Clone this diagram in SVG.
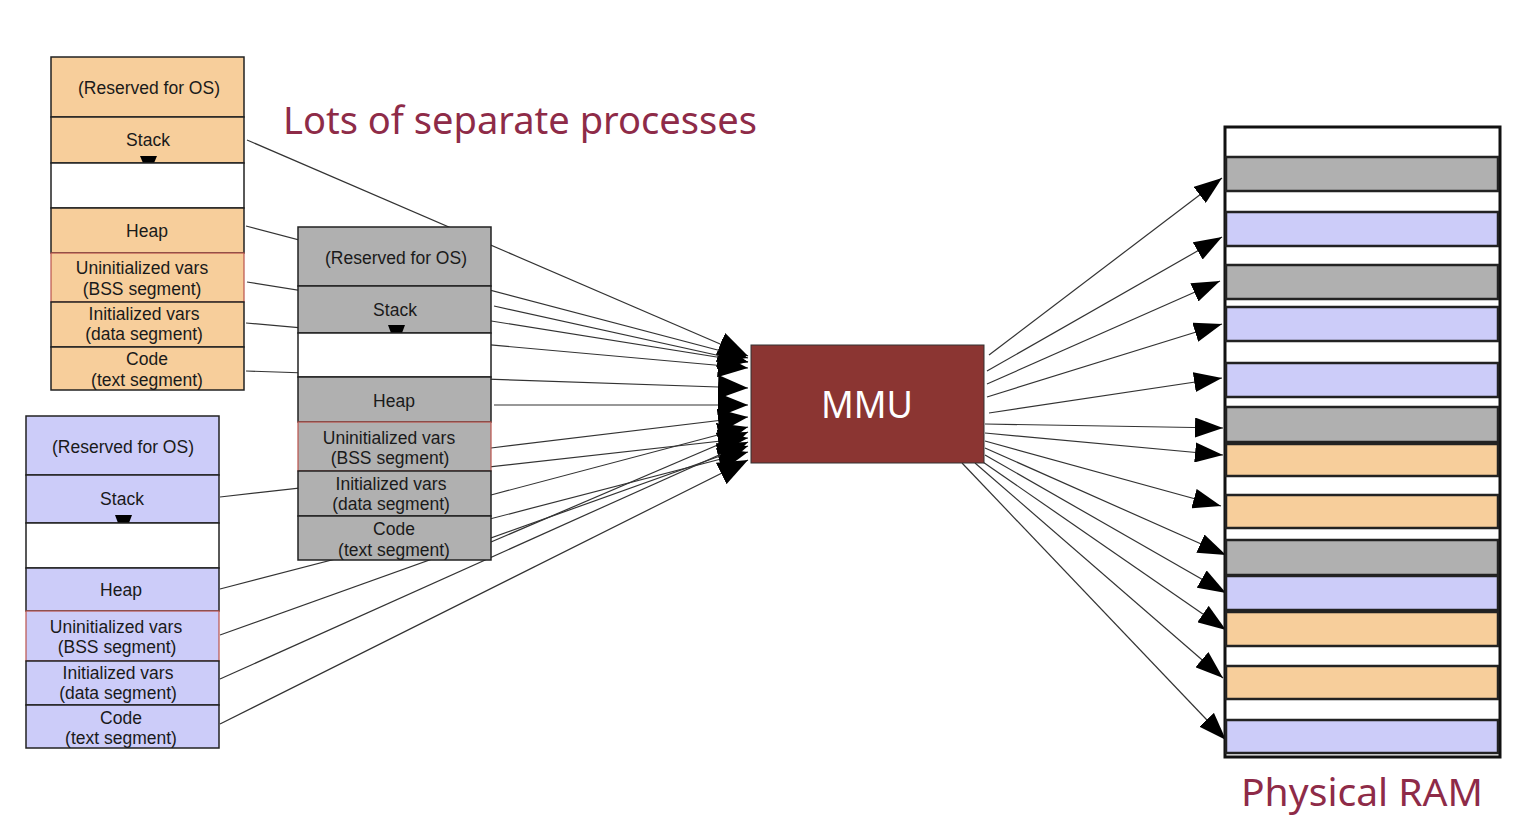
<svg xmlns="http://www.w3.org/2000/svg" width="1518" height="840" viewBox="0 0 1518 840">
<defs>
<marker id="ah" markerUnits="userSpaceOnUse" markerWidth="28" markerHeight="20" viewBox="0 0 14 10" refX="14" refY="5" orient="auto">
<path d="M0,0 L14,5 L0,10 z" fill="#000"/>
</marker>
<marker id="ahb" markerUnits="userSpaceOnUse" markerWidth="30" markerHeight="24" viewBox="0 0 12.5 10" refX="12.5" refY="5" orient="auto">
<path d="M0,0 L12.5,5 L0,10 z" fill="#000"/>
</marker>
<style>
.seg{stroke:#222;stroke-width:1.5}
.bss{stroke:#B9534C;stroke-width:1.2}
.or{fill:#F7CE9B}.gr{fill:#B0B0B0}.bl{fill:#CCCCF9}.wh{fill:#FFFFFF}
.t{font-family:"Liberation Sans",Arial,sans-serif;font-size:17.5px;fill:#1a1a1a;text-anchor:middle}
.c{stroke:#333;stroke-width:1.2;fill:none;marker-end:url(#ah)}
.m{stroke:#333;stroke-width:1.2;fill:none;marker-end:url(#ahb)}
.band{stroke:#222;stroke-width:2.5}
.title{font-family:"Noto Sans","DejaVu Sans",sans-serif;font-size:38px;fill:#8E2B48}
.tri{fill:#000}
</style>
</defs>
<rect width="1518" height="840" fill="#fff"/>

<g id="connectors">
<line class="m" x1="247" y1="140" x2="748" y2="356"/>
<line class="m" x1="246" y1="226" x2="748" y2="358"/>
<line class="m" x1="247" y1="282" x2="748" y2="362"/>
<line class="m" x1="246" y1="323" x2="748" y2="368"/>
<line class="m" x1="246" y1="371" x2="748" y2="388"/>
<line class="m" x1="494" y1="306" x2="748" y2="362"/>
<line class="m" x1="494" y1="405" x2="748" y2="405"/>
<line class="m" x1="491" y1="448" x2="748" y2="417"/>
<line class="m" x1="491" y1="495" x2="748" y2="427"/>
<line class="m" x1="491" y1="542" x2="748" y2="432"/>
<line class="m" x1="220" y1="497" x2="748" y2="438"/>
<line class="m" x1="220" y1="589" x2="748" y2="452"/>
<line class="m" x1="220" y1="635" x2="748" y2="446"/>
<line class="m" x1="220" y1="679" x2="748" y2="442"/>
<line class="m" x1="220" y1="724" x2="748" y2="460"/>

<line class="c" x1="989" y1="355" x2="1222" y2="178"/>
<line class="c" x1="987" y1="371" x2="1222" y2="237"/>
<line class="c" x1="987" y1="384" x2="1220" y2="281"/>
<line class="c" x1="987" y1="397" x2="1222" y2="324"/>
<line class="c" x1="989" y1="413" x2="1222" y2="378"/>
<line class="c" x1="985" y1="424" x2="1223" y2="428"/>
<line class="c" x1="985" y1="433" x2="1223" y2="455"/>
<line class="c" x1="985" y1="441" x2="1221" y2="506"/>
<line class="c" x1="985" y1="448" x2="1226" y2="555"/>
<line class="c" x1="985" y1="455" x2="1226" y2="593"/>
<line class="c" x1="980" y1="460" x2="1226" y2="630"/>
<line class="c" x1="975" y1="463" x2="1223" y2="678"/>
<line class="c" x1="962" y1="463" x2="1226" y2="740"/>
</g>

<g id="process-orange">
<rect class="seg or" x="51" y="57" width="193" height="60"/>
<text class="t" x="149" y="94">(Reserved for OS)</text>
<rect class="seg or" x="51" y="117" width="193" height="46"/>
<text class="t" x="148" y="146">Stack</text>
<path class="tri" d="M140,156 L157,156 L154,163 L143,163 z"/>
<rect class="seg wh" x="51" y="163" width="193" height="45"/>
<rect class="seg or" x="51" y="208" width="193" height="45"/>
<text class="t" x="147" y="237">Heap</text>
<rect class="bss or" x="51" y="253" width="193" height="49"/>
<text class="t" x="142" y="274">Uninitialized vars</text>
<text class="t" x="142" y="295">(BSS segment)</text>
<rect class="seg or" x="51" y="302" width="193" height="45"/>
<text class="t" x="144" y="320">Initialized vars</text>
<text class="t" x="144" y="340">(data segment)</text>
<rect class="seg or" x="51" y="347" width="193" height="43"/>
<text class="t" x="147" y="365">Code</text>
<text class="t" x="147" y="386">(text segment)</text>
</g>

<g id="process-gray">
<rect class="seg gr" x="298" y="227" width="193" height="59"/>
<text class="t" x="396" y="264">(Reserved for OS)</text>
<rect class="seg gr" x="298" y="286" width="193" height="47"/>
<text class="t" x="395" y="316">Stack</text>
<path class="tri" d="M388,325 L405,325 L402,333 L391,333 z"/>
<rect class="seg wh" x="298" y="333" width="193" height="44"/>
<rect class="seg gr" x="298" y="377" width="193" height="45"/>
<text class="t" x="394" y="407">Heap</text>
<rect class="bss gr" x="298" y="422" width="193" height="49"/>
<text class="t" x="389" y="444">Uninitialized vars</text>
<text class="t" x="390" y="464">(BSS segment)</text>
<rect class="seg gr" x="298" y="471" width="193" height="45"/>
<text class="t" x="391" y="490">Initialized vars</text>
<text class="t" x="391" y="510">(data segment)</text>
<rect class="seg gr" x="298" y="516" width="193" height="44"/>
<text class="t" x="394" y="535">Code</text>
<text class="t" x="394" y="556">(text segment)</text>
</g>

<g id="process-blue">
<rect class="seg bl" x="26" y="416" width="193" height="59"/>
<text class="t" x="123" y="453">(Reserved for OS)</text>
<rect class="seg bl" x="26" y="475" width="193" height="48"/>
<text class="t" x="122" y="505">Stack</text>
<path class="tri" d="M115,515 L132,515 L129,523 L118,523 z"/>
<rect class="seg wh" x="26" y="523" width="193" height="45"/>
<rect class="seg bl" x="26" y="568" width="193" height="43"/>
<text class="t" x="121" y="596">Heap</text>
<rect class="bss bl" x="26" y="611" width="193" height="50"/>
<text class="t" x="116" y="633">Uninitialized vars</text>
<text class="t" x="117" y="653">(BSS segment)</text>
<rect class="seg bl" x="26" y="661" width="193" height="44"/>
<text class="t" x="118" y="679">Initialized vars</text>
<text class="t" x="118" y="699">(data segment)</text>
<rect class="seg bl" x="26" y="705" width="193" height="43"/>
<text class="t" x="121" y="724">Code</text>
<text class="t" x="121" y="744">(text segment)</text>
</g>

<g id="mmu">
<rect x="751" y="345" width="233" height="118" fill="#8B3532" stroke="#333" stroke-width="1"/>
<text x="867" y="418" font-family="'Noto Sans','DejaVu Sans',sans-serif" font-size="38" fill="#fff" text-anchor="middle" textLength="92" lengthAdjust="spacingAndGlyphs">MMU</text>
</g>

<g id="ram">
<rect x="1225" y="127" width="275" height="630" fill="#fff" stroke="#111" stroke-width="3"/>
<rect class="band gr" x="1226" y="157" width="272" height="34"/>
<rect class="band bl" x="1226" y="212" width="272" height="34"/>
<rect class="band gr" x="1226" y="265" width="272" height="34"/>
<rect class="band bl" x="1226" y="307" width="272" height="34"/>
<rect class="band bl" x="1226" y="363" width="272" height="34"/>
<rect class="band gr" x="1226" y="407" width="272" height="35"/>
<rect class="band or" x="1226" y="444" width="272" height="32"/>
<rect class="band or" x="1226" y="495" width="272" height="33"/>
<rect class="band gr" x="1226" y="540" width="272" height="35"/>
<rect class="band bl" x="1226" y="576" width="272" height="34"/>
<rect class="band or" x="1226" y="612" width="272" height="34"/>
<rect class="band or" x="1226" y="666" width="272" height="33"/>
<rect class="band bl" x="1226" y="720" width="272" height="33"/>
</g>

<g id="titles">
<text class="title" x="283" y="134" textLength="474" lengthAdjust="spacingAndGlyphs">Lots of separate processes</text>
<text class="title" x="1241" y="806" textLength="242" lengthAdjust="spacingAndGlyphs">Physical RAM</text>
</g>
</svg>
